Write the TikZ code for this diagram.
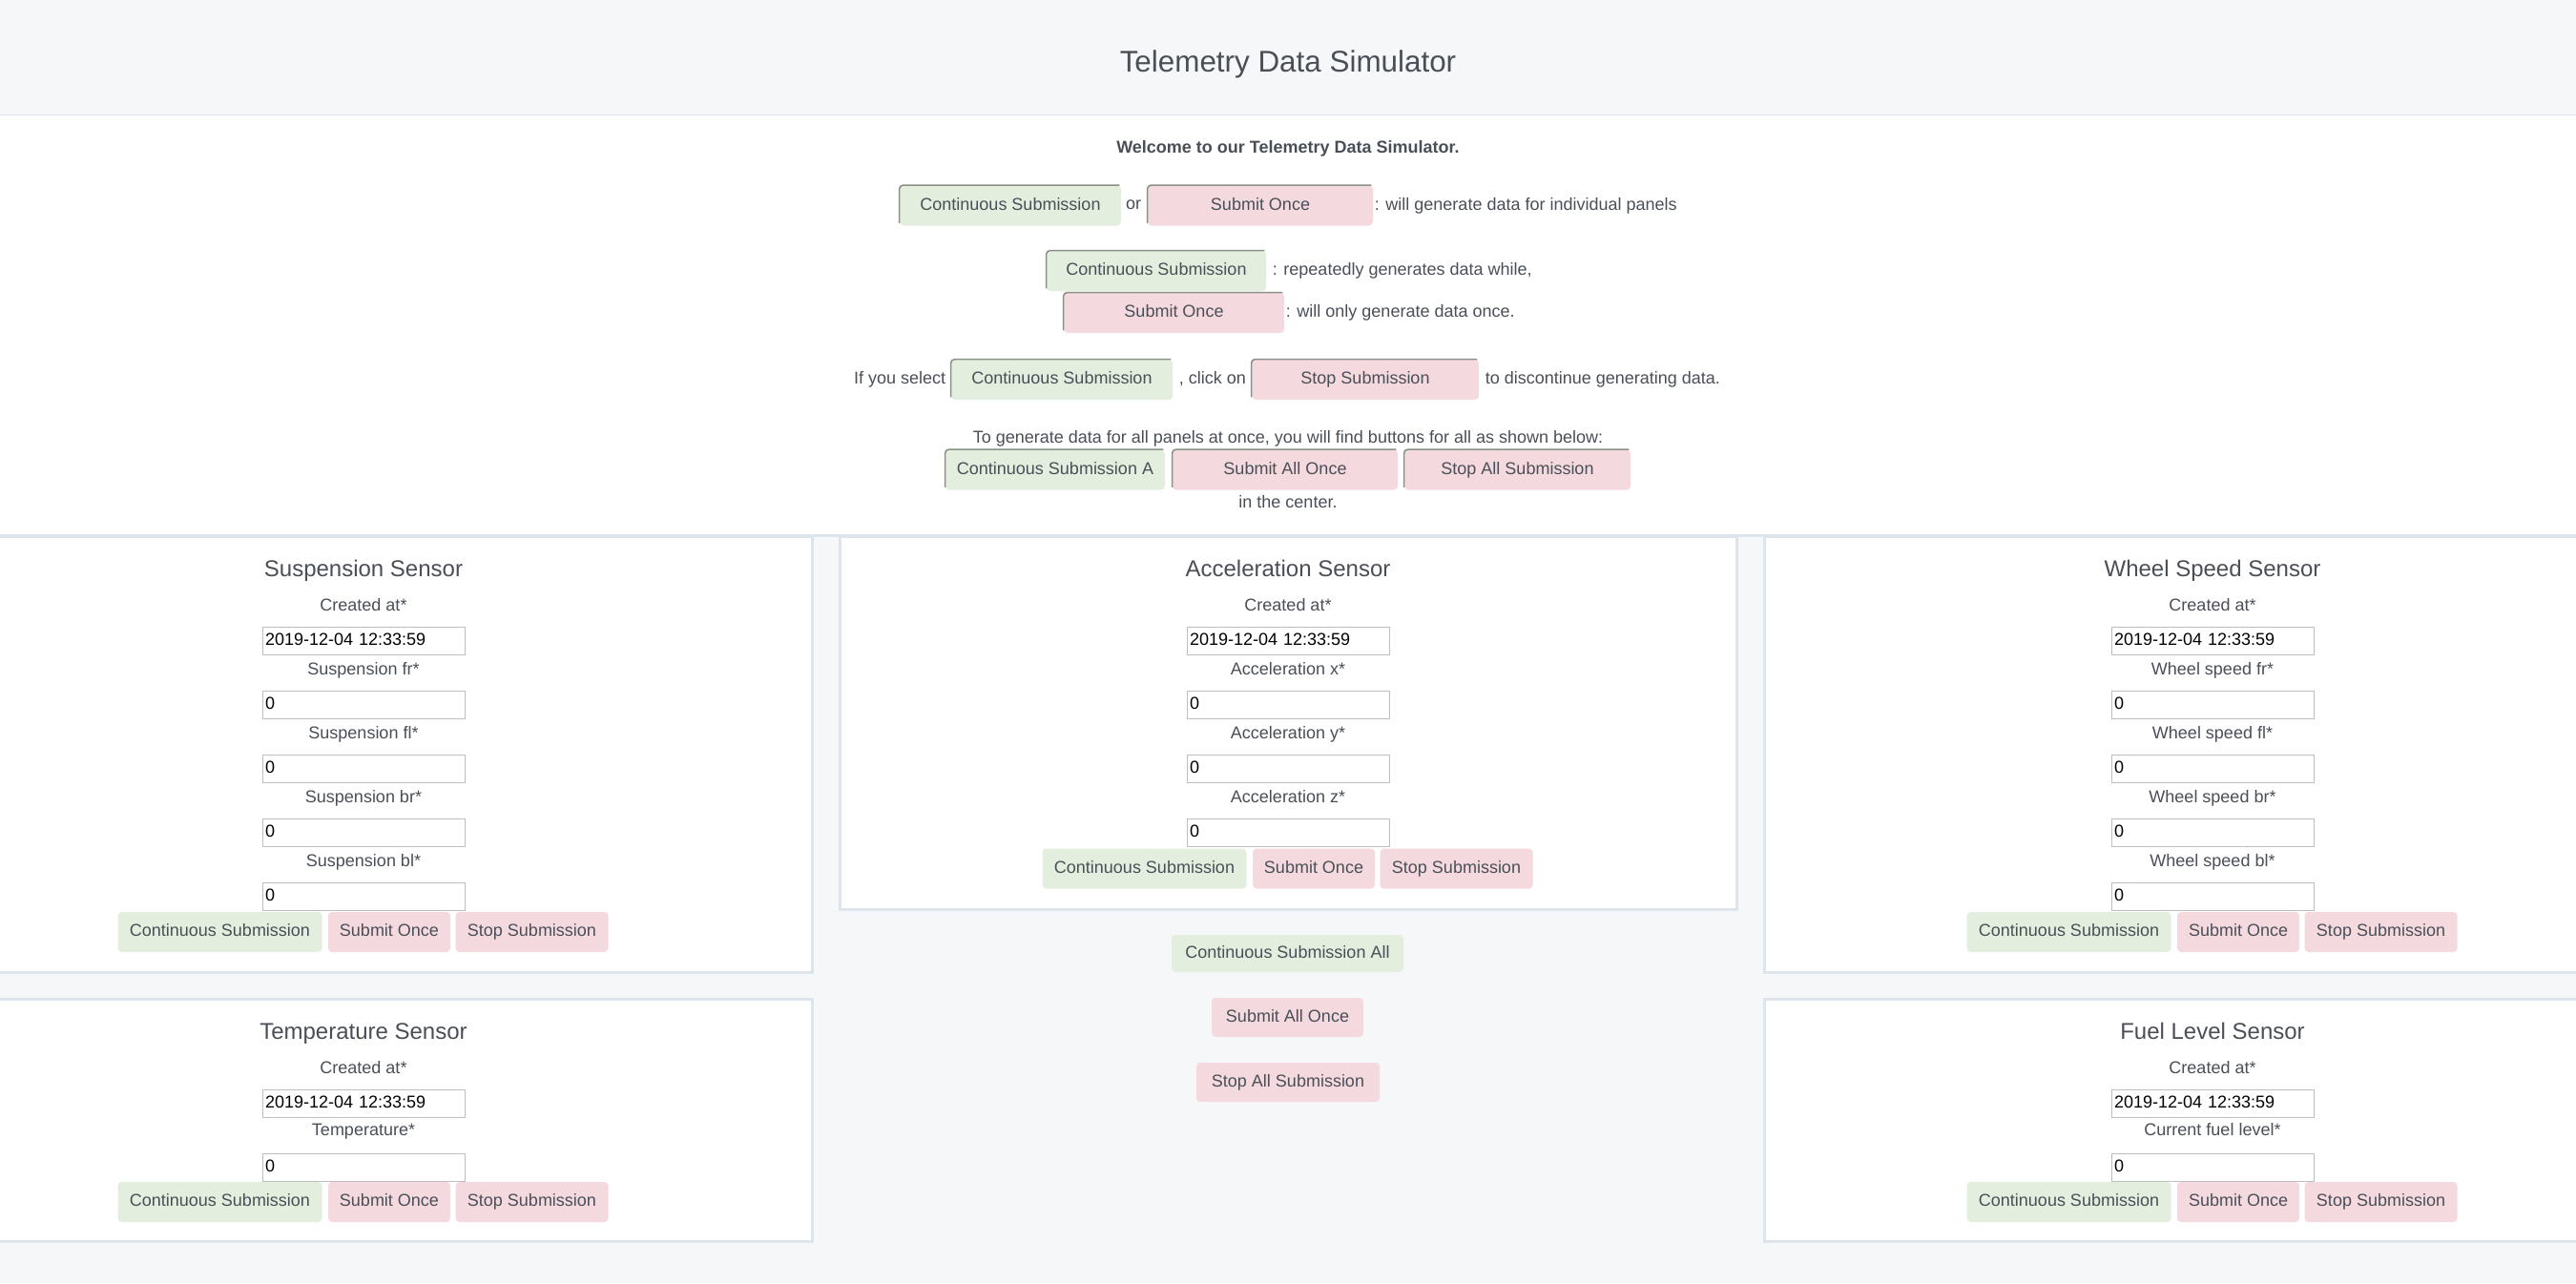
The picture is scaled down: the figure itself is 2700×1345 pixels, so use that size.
\documentclass[tikz,border=0pt]{standalone}
\usepackage{fontspec}
\setmainfont{Liberation Sans}
\usepackage{tikz}
\usepackage{xcolor}
\usetikzlibrary{positioning}
\definecolor{pagegray}{RGB}{246,247,249}
\definecolor{linegray}{RGB}{222,228,236}
\definecolor{textgray}{RGB}{74,79,87}
\definecolor{btngreen}{RGB}{227,238,222}
\definecolor{btnpink}{RGB}{244,218,223}
\definecolor{edgegray}{RGB}{138,146,136}
\definecolor{fieldline}{RGB}{190,190,190}
\tikzset{
    plain-text/.style = {text=textgray, font=\fontsize{9}{11}\selectfont, inner sep=0pt, text height=6.6pt, text depth=1.9pt},
    btn/.style = {text=textgray, font=\fontsize{9}{11}\selectfont, rounded corners=2pt, minimum height=21pt, inner sep=0pt, text height=6.6pt, text depth=1.9pt},
    green-btn/.style = {btn, fill=btngreen},
    pink-btn/.style = {btn, fill=btnpink},
    btn-edge/.style = {draw=edgegray, line width=0.8pt, rounded corners=2pt},
    panel-box/.style = {draw=linegray, fill=white, line width=1.5pt},
    panel-title/.style = {text=textgray, font=\fontsize{12}{14}\selectfont, inner sep=0pt, text height=8.8pt, text depth=2.5pt},
    field-label/.style = {plain-text},
    field-box/.style = {draw=fieldline, fill=white, line width=0.5pt, text width=103pt, align=left, inner xsep=1.5pt, inner ysep=0pt, minimum height=14.5pt, text height=6.6pt, text depth=1.9pt, font=\fontsize{9}{11}\selectfont},
}
\begin{document}
\begin{tikzpicture}[x=0.5pt, y=-0.5pt]
\useasboundingbox (0,0) rectangle (2700,1345);
\clip (0,0) rectangle (2700,1345);
\fill[pagegray] (0,0) rectangle (2700,1345);
% header
\node[text=textgray, font=\fontsize{15.7}{18}\selectfont] (title) at (1350,67) {Telemetry Data Simulator};
\fill[white] (0,121) rectangle (2700,561);
\draw[linegray, line width=0.8pt] (0,120.5) -- (2700,120.5);
\draw[linegray, line width=1.5pt] (0,561.5) -- (2700,561.5);
% intro text
\node[plain-text, font=\fontsize{9}{11}\selectfont\bfseries] (welcome) at (1350,156) {Welcome to our Telemetry Data Simulator.};
\node[green-btn, minimum width=116pt] (cs-one) at (1059,215.5) {Continuous Submission};
\node[plain-text] (or-text) at (1188,215) {or};
\node[pink-btn, minimum width=118pt] (once-one) at (1321,215.5) {Submit Once};
\node[plain-text, right=0.5pt of once-one] (note-one) {: will generate data for individual panels};
\node[green-btn, minimum width=115pt] (cs-two) at (1212,284) {Continuous Submission};
\node[plain-text, right=3pt of cs-two] (note-two) {: repeatedly generates data while,};
\node[pink-btn, minimum width=115.5pt] (once-two) at (1230.5,328) {Submit Once};
\node[plain-text, right=0.5pt of once-two] (note-three) {: will only generate data once.};
\node[green-btn, minimum width=116pt] (cs-three) at (1113,398) {Continuous Submission};
\node[plain-text, left=2.5pt of cs-three] (select-text) {If you select};
\node[plain-text, right=3pt of cs-three] (click-text) {, click on};
\node[pink-btn, minimum width=119pt] (stop-one) at (1431,398) {Stop Submission};
\node[plain-text, right=3pt of stop-one] (note-four) {to discontinue generating data.};
\node[plain-text] (all-text) at (1350,460) {To generate data for all panels at once, you will find buttons for all as shown below:};
\node[green-btn, minimum width=115pt] (csa-one) at (1106,492.5) {Continuous Submission A};
\node[pink-btn, minimum width=118pt] (onceall-one) at (1347,492.5) {Submit All Once};
\node[pink-btn, minimum width=118.5pt] (stopall-one) at (1590.5,492.5) {Stop All Submission};
\node[plain-text] (center-text) at (1350,528) {in the center.};
\foreach \b in {cs-one, once-one, cs-two, once-two, cs-three, stop-one, csa-one, onceall-one, stopall-one}
    \draw[btn-edge] ([yshift=1.5pt]\b.south west) -- (\b.north west) -- ([xshift=-1pt]\b.north east);
% panels
\draw[panel-box] (-89,562) rectangle (851,1019);
\draw[panel-box] (880,562) rectangle (1820,953);
\draw[panel-box] (1849,562) rectangle (2789,1019);
\draw[panel-box] (-89,1047) rectangle (851,1301);
\draw[panel-box] (1849,1047) rectangle (2789,1301);
\foreach \cx/\ty/\nm/\ttl in {381/562/susp/Suspension Sensor, 1350/562/acc/Acceleration Sensor, 2319/562/wheel/Wheel Speed Sensor, 381/1047/temp/Temperature Sensor, 2319/1047/fuel/Fuel Level Sensor} {
    \node[panel-title] (\nm-title) at (\cx,\ty+36) {\ttl};
    \node[field-label] (\nm-created) at (\cx,\ty+74) {Created at*};
    \node[field-box] (\nm-date) at (\cx,\ty+109.5) {2019-12-04 12:33:59};
}
\foreach \lab [count=\i] in {Suspension fr*, Suspension fl*, Suspension br*, Suspension bl*} {
    \node[field-label] (susp-lab-\i) at (381,636+67*\i) {\lab};
    \node[field-box] (susp-in-\i) at (381,671.5+67*\i) {0};
}
\foreach \lab [count=\i] in {Acceleration x*, Acceleration y*, Acceleration z*} {
    \node[field-label] (acc-lab-\i) at (1350,636+67*\i) {\lab};
    \node[field-box] (acc-in-\i) at (1350,671.5+67*\i) {0};
}
\foreach \lab [count=\i] in {Wheel speed fr*, Wheel speed fl*, Wheel speed br*, Wheel speed bl*} {
    \node[field-label] (wheel-lab-\i) at (2319,636+67*\i) {\lab};
    \node[field-box] (wheel-in-\i) at (2319,671.5+67*\i) {0};
}
\foreach \cx/\nm/\lab in {381/temp/Temperature*, 2319/fuel/Current fuel level*} {
    \node[field-label] (\nm-lab-1) at (\cx,1186) {\lab};
    \node[field-box] (\nm-in-1) at (\cx,1223.5) {0};
}
% panel buttons
\foreach \cx/\cy/\nm in {381/977/susp, 1350/910.5/acc, 2319/977/wheel, 381/1260/temp, 2319/1260/fuel} {
    \node[green-btn, minimum width=107pt] (\nm-cont) at (\cx-150.5,\cy) {Continuous Submission};
    \node[pink-btn, minimum width=64pt] (\nm-once) at (\cx+27,\cy) {Submit Once};
    \node[pink-btn, minimum width=80pt] (\nm-stop) at (\cx+176.5,\cy) {Stop Submission};
}
% buttons for all panels
\node[green-btn, minimum width=121.5pt, minimum height=19.5pt] (cont-all) at (1349.5,999.5) {Continuous Submission All};
\node[pink-btn, minimum width=79.5pt, minimum height=20.5pt] (once-all) at (1349.5,1066.5) {Submit All Once};
\node[pink-btn, minimum width=96pt, minimum height=20.5pt] (stop-all) at (1350,1134.5) {Stop All Submission};
\end{tikzpicture}
\end{document}
